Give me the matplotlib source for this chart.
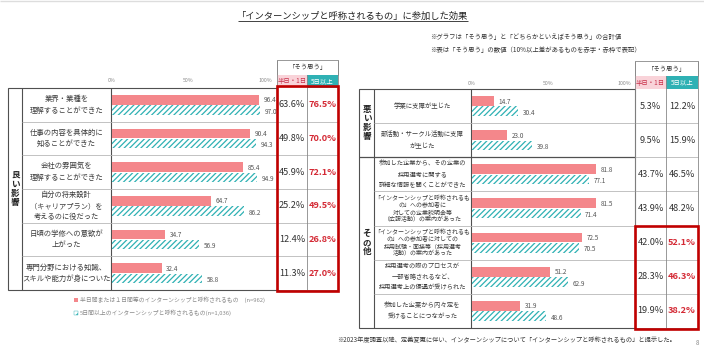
import matplotlib
matplotlib.use("Agg")
import matplotlib.pyplot as plt
from matplotlib.patches import Rectangle

plt.rcParams['font.family'] = ['Noto Sans CJK JP', 'DejaVu Sans']
plt.rcParams['hatch.linewidth'] = 0.9

W, H = 704, 356

# ---- data: left panel (良い影響) ----
left_labels = [
    "業界・業種を\n理解することができた",
    "仕事の内容を具体的に\n知ることができた",
    "会社の雰囲気を\n理解することができた",
    "自分の将来設計\n（キャリアプラン）を\n考えるのに役だった",
    "日頃の学修への意欲が\n上がった",
    "専門分野における知識、\nスキルや能力が身についた",
]
left_half = [96.4, 90.4, 85.4, 64.7, 34.7, 32.4]
left_five = [97.0, 94.3, 94.9, 86.2, 56.9, 58.8]
left_half_sou = [63.6, 49.8, 45.9, 25.2, 12.4, 11.3]
left_five_sou = [76.5, 70.0, 72.1, 49.5, 26.8, 27.0]
left_flag = [True, True, True, True, True, True]
left_groups = [("良い影響", 6)]

# ---- data: right panel (悪い影響 / その他) ----
right_labels = [
    "学業に支障が生じた",
    "部活動・サークル活動に支障\nが生じた",
    "参加した企業から、その企業の\n採用選考に関する\n詳細な情報を聞くことができた",
    "「インターンシップと呼称されるも\nの」への参加者に\n対しての企業説明会等\n（広報活動）の案内があった",
    "「インターンシップと呼称されるも\nの」への参加者に対しての\n採用試験・面接等（採用選考\n活動）の案内があった",
    "採用選考の際のプロセスが\n一部省略されるなど、\n採用選考上の優遇が受けられた",
    "参加した企業から内々定を\n受けることにつながった",
]
right_half = [14.7, 23.0, 81.8, 81.5, 72.5, 51.2, 31.9]
right_five = [30.4, 39.8, 77.1, 71.4, 70.5, 62.9, 48.6]
right_half_sou = [5.3, 9.5, 43.7, 43.9, 42.0, 28.3, 19.9]
right_five_sou = [12.2, 15.9, 46.5, 48.2, 52.1, 46.3, 38.2]
right_flag = [False, False, False, False, True, True, True]
right_groups = [("悪い影響", 2), ("その他", 5)]

legend_labels = [
    "半日間または１日間等のインターンシップと呼称されるもの　(n=962)",
    "5日間以上のインターンシップと呼称されるもの(n=1,036)",
]

PINK = "#F4878B"
TEAL = "#2FB1B4"
RED = "#C00000"
RED_TXT = "#D42A35"
FRAME = "#505050"
GRID = "#B8B8B8"
TXT = "#333333"

fig = plt.figure(figsize=(W / 100, H / 100), dpi=100)
ov = fig.add_axes([0, 0, 1, 1], zorder=0)
ov.set_xlim(0, W)
ov.set_ylim(H, 0)
ov.axis("off")


def px_axes(x0, y0, x1, y1):
    return fig.add_axes([x0 / W, 1 - y1 / H, (x1 - x0) / W, (y1 - y0) / H], zorder=1)


def hline(y, x0, x1, color, lw):
    ov.plot([x0, x1], [y, y], color=color, lw=lw, solid_capstyle="butt")


def vline(x, y0, y1, color, lw):
    ov.plot([x, x], [y0, y1], color=color, lw=lw, solid_capstyle="butt")


def draw_panel(lay, labels, half, five, half_s, five_s, flags, groups, label_fs):
    n = len(labels)
    x_fr, x_gr, x_lab, x_tab, x_sp, x_end = lay["x"]
    y_top, y_bot = lay["y"]
    rh = (y_bot - y_top) / n
    zero, hundred = lay["scale"]
    s = (hundred - zero) / 100.0

    # bars
    ax = px_axes(x_lab, y_top, x_tab, y_bot)
    ax.patch.set_visible(False)
    pos = list(range(n))
    ax.barh([p - 0.15 for p in pos], half, height=0.29, color=PINK, lw=0)
    ax.barh([p + 0.15 for p in pos], five, height=0.28, color="white",
            edgecolor=TEAL, hatch="//////", lw=0)
    for p, v in zip(pos, half):
        ax.text(v + 3, p - 0.13, f"{v:.1f}", fontsize=4.6, color="#555555", va="center")
    for p, v in zip(pos, five):
        ax.text(v + 3, p + 0.2, f"{v:.1f}", fontsize=4.6, color="#555555", va="center")
    ax.set_xlim((x_lab - zero) / s, (x_tab - zero) / s)
    ax.set_ylim(n - 0.5, -0.5)
    ax.set_yticks([])
    ax.xaxis.tick_top()
    ax.set_xticks([0, 50, 100])
    ax.set_xticklabels(["0%", "50%", "100%"], fontsize=3.8, color="#888888")
    ax.tick_params(axis="x", length=0, pad=lay["tick_pad"])
    for sp in ax.spines.values():
        sp.set_visible(False)

    # frame
    ov.add_patch(Rectangle((x_fr, y_top), x_tab - x_fr, y_bot - y_top,
                           fill=False, edgecolor=FRAME, lw=0.8))
    vline(x_gr, y_top, y_bot, FRAME, 0.8)
    vline(x_lab, y_top, y_bot, FRAME, 0.8)
    bounds = []
    acc = 0
    for _, cnt in groups:
        acc += cnt
        bounds.append(acc)
    for i in range(1, n):
        y = y_top + i * rh
        if i in bounds:
            hline(y, x_fr, x_tab, FRAME, 0.9)
        else:
            hline(y, x_gr, x_tab, GRID, 0.6)
        hline(y, x_tab, x_end, GRID, 0.6)

    # group labels
    start = 0
    for name, cnt in groups:
        yc = y_top + (start + cnt / 2) * rh
        ov.text((x_fr + x_gr) / 2 + 0.5, yc, "\n".join(name), fontsize=6.2,
                fontweight="bold", color="#222222", ha="center", va="center",
                linespacing=1.0)
        start += cnt

    # category labels
    for i, lab in enumerate(labels):
        yc = y_top + (i + 0.5) * rh
        lines = lab.count("\n") + 1
        if lines < 3:
            fs, ls = label_fs, 1.6
        elif lines == 3:
            fs, ls = label_fs - 0.1, 1.45
        else:
            fs, ls = label_fs - 0.3, 1.18
        ov.text((x_gr + x_lab) / 2, yc, lab, fontsize=fs, color="#3A3A3A",
                ha="center", va="center", linespacing=ls)

    # table
    h_top, h_mid = lay["header"]
    ov.add_patch(Rectangle((x_tab, h_top), x_end - x_tab, h_mid - h_top,
                           facecolor="white", edgecolor="#888888", lw=0.6))
    ov.text((x_tab + x_end) / 2, (h_top + h_mid) / 2, "「そう思う」", fontsize=4.6,
            color=TXT, ha="center", va="center")
    ov.add_patch(Rectangle((x_tab, h_mid), x_sp - x_tab, y_top - h_mid,
                           facecolor="#F9D3D9", edgecolor="none"))
    ov.add_patch(Rectangle((x_sp, h_mid), x_end - x_sp, y_top - h_mid,
                           facecolor=TEAL, edgecolor="none"))
    ov.text((x_tab + x_sp) / 2, (h_mid + y_top) / 2, "半日・1日", fontsize=4.6,
            color="#C8304A", ha="center", va="center")
    ov.text((x_sp + x_end) / 2, (h_mid + y_top) / 2, "5日以上", fontsize=4.6,
            color="white", ha="center", va="center")
    vline(x_sp, h_mid, y_bot, "#888888", 0.6)
    vline(x_end, h_top, y_bot, "#888888", 0.6)
    vline(x_tab, h_top, y_bot, "#888888", 0.6)
    hline(y_bot, x_tab, x_end, "#888888", 0.6)
    for i in range(n):
        yc = y_top + (i + 0.5) * rh
        ov.text((x_tab + x_sp) / 2, yc, f"{half_s[i]:.1f}%", fontsize=6.6,
                color=TXT, ha="center", va="center")
        ov.text((x_sp + x_end) / 2, yc, f"{five_s[i]:.1f}%", fontsize=6.6,
                color=RED_TXT if flags[i] else TXT,
                fontweight="bold" if flags[i] else "normal",
                ha="center", va="center")

    # red box
    idx = [i for i, f in enumerate(flags) if f]
    if idx:
        yb0 = y_top + idx[0] * rh - (2 if idx[0] == 0 else 0)
        yb1 = y_top + (idx[-1] + 1) * rh + 1
        ov.add_patch(Rectangle((x_tab, yb0), x_end - x_tab, yb1 - yb0,
                               fill=False, edgecolor=RED, lw=1.9, zorder=5))
    return ax


left_lay = {"x": (8, 22, 111, 277, 307, 338), "y": (88, 290), "scale": (112, 265),
            "header": (60, 75), "tick_pad": 3.5}
right_lay = {"x": (359, 374, 471, 635, 666, 698), "y": (89, 328), "scale": (472, 624),
             "header": (61, 76), "tick_pad": 2.5}

draw_panel(left_lay, left_labels, left_half, left_five, left_half_sou, left_five_sou,
           left_flag, left_groups, 5.3)
draw_panel(right_lay, right_labels, right_half, right_five, right_half_sou, right_five_sou,
           right_flag, right_groups, 4.6)

# title + notes
title = ov.text(353, 16, "「インターンシップと呼称されるもの」に参加した効果", fontsize=6.7,
                color="#222222", ha="center", va="center")
fig.canvas.draw()
bb = title.get_window_extent().transformed(ov.transData.inverted())
hline(max(bb.y0, bb.y1) + 0.5, bb.x0 + 1, bb.x1 - 1, "#222222", 0.6)
hline(0.6, 0, W, "#DDDDDD", 1.0)

ov.text(430, 37, "※グラフは「そう思う」と「どちらかといえばそう思う」の合計値", fontsize=4.6,
        color="#333333", ha="left", va="center")
ov.text(430, 50, "※表は「そう思う」の数値（10%以上差があるものを赤字・赤枠で表記）", fontsize=4.6,
        color="#333333", ha="left", va="center")

# legend
ov.add_patch(Rectangle((74, 298), 4, 4, facecolor=PINK, edgecolor="none"))
ov.add_patch(Rectangle((74, 311), 4, 4, facecolor="white", edgecolor=TEAL,
                       hatch="////", lw=0.3))
ov.text(80, 300, legend_labels[0], fontsize=4.2, color="#8A8A8A", va="center")
ov.text(80, 313, legend_labels[1], fontsize=4.2, color="#8A8A8A", va="center")

# footnote
ov.text(337, 340, "※2023年度調査以降、定義変更に伴い、インターンシップについて「インターンシップと呼称されるもの」と提示した。",
        fontsize=4.5, color="#333333", ha="left", va="center")
ov.text(697, 343, "8", fontsize=4.5, color="#888888", ha="center", va="center")

fig.savefig("out.png", dpi=100)
